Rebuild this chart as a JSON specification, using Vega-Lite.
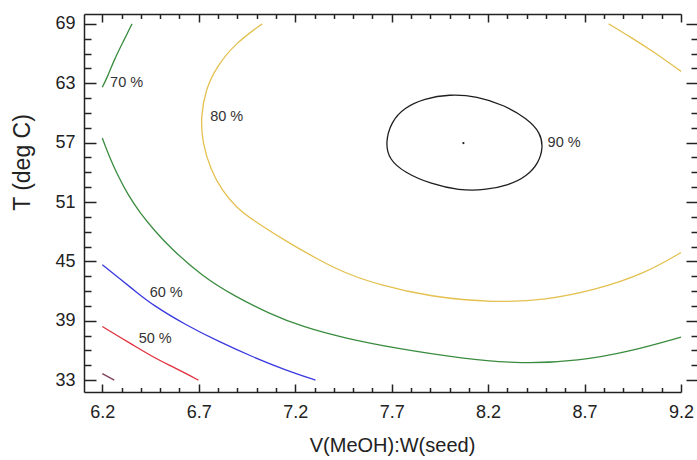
{
  "$schema": "https://vega.github.io/schema/vega-lite/v6.json",
  "width": 597,
  "height": 378,
  "autosize": "none",
  "padding": {"left": 84, "top": 14, "right": 16, "bottom": 68},
  "background": "white",
  "config": {
    "font": "Liberation Sans",
    "view": {"stroke": null},
    "axis": {
      "grid": false,
      "domainColor": "#222",
      "tickColor": "#222",
      "labelColor": "#222",
      "titleColor": "#222",
      "domainWidth": 1.5,
      "tickWidth": 1.5,
      "labelFontSize": 18,
      "labelFont": "Liberation Sans",
      "titleFont": "Liberation Sans",
      "titleFontWeight": "normal"
    }
  },
  "data": {
    "values": [
      {"lv": "50", "seg": "a", "o": 1, "x": 6.2, "y": 38.42},
      {"lv": "50", "seg": "a", "o": 2, "x": 6.288, "y": 37.38},
      {"lv": "50", "seg": "a", "o": 3, "x": 6.374, "y": 36.37},
      {"lv": "50", "seg": "a", "o": 4, "x": 6.461, "y": 35.36},
      {"lv": "50", "seg": "a", "o": 5, "x": 6.546, "y": 34.52},
      {"lv": "50", "seg": "a", "o": 6, "x": 6.633, "y": 33.68},
      {"lv": "50", "seg": "a", "o": 7, "x": 6.698, "y": 33.0},
      {"lv": "60", "seg": "a", "o": 1, "x": 6.2, "y": 44.66},
      {"lv": "60", "seg": "a", "o": 2, "x": 6.288, "y": 43.29},
      {"lv": "60", "seg": "a", "o": 3, "x": 6.374, "y": 41.94},
      {"lv": "60", "seg": "a", "o": 4, "x": 6.461, "y": 40.59},
      {"lv": "60", "seg": "a", "o": 5, "x": 6.633, "y": 38.57},
      {"lv": "60", "seg": "a", "o": 6, "x": 6.805, "y": 36.88},
      {"lv": "60", "seg": "a", "o": 7, "x": 6.978, "y": 35.36},
      {"lv": "60", "seg": "a", "o": 8, "x": 7.15, "y": 34.01},
      {"lv": "60", "seg": "a", "o": 9, "x": 7.305, "y": 33.0},
      {"lv": "70", "seg": "a", "o": 1, "x": 6.2, "y": 62.6},
      {"lv": "70", "seg": "a", "o": 2, "x": 6.228, "y": 63.7},
      {"lv": "70", "seg": "a", "o": 3, "x": 6.262, "y": 65.39},
      {"lv": "70", "seg": "a", "o": 4, "x": 6.305, "y": 67.08},
      {"lv": "70", "seg": "a", "o": 5, "x": 6.354, "y": 69.0},
      {"lv": "70", "seg": "b", "o": 1, "x": 6.2, "y": 57.46},
      {"lv": "70", "seg": "b", "o": 2, "x": 6.236, "y": 55.6},
      {"lv": "70", "seg": "b", "o": 3, "x": 6.281, "y": 53.65},
      {"lv": "70", "seg": "b", "o": 4, "x": 6.333, "y": 51.72},
      {"lv": "70", "seg": "b", "o": 5, "x": 6.395, "y": 49.9},
      {"lv": "70", "seg": "b", "o": 6, "x": 6.472, "y": 48.08},
      {"lv": "70", "seg": "b", "o": 7, "x": 6.546, "y": 46.49},
      {"lv": "70", "seg": "b", "o": 8, "x": 6.719, "y": 43.46},
      {"lv": "70", "seg": "b", "o": 9, "x": 6.891, "y": 41.43},
      {"lv": "70", "seg": "b", "o": 10, "x": 7.063, "y": 39.75},
      {"lv": "70", "seg": "b", "o": 11, "x": 7.236, "y": 38.39},
      {"lv": "70", "seg": "b", "o": 12, "x": 7.46, "y": 37.22},
      {"lv": "70", "seg": "b", "o": 13, "x": 7.722, "y": 36.21},
      {"lv": "70", "seg": "b", "o": 14, "x": 8.067, "y": 35.18},
      {"lv": "70", "seg": "b", "o": 15, "x": 8.377, "y": 34.62},
      {"lv": "70", "seg": "b", "o": 16, "x": 8.67, "y": 34.95},
      {"lv": "70", "seg": "b", "o": 17, "x": 8.929, "y": 35.86},
      {"lv": "70", "seg": "b", "o": 18, "x": 9.2, "y": 37.35},
      {"lv": "80", "seg": "a", "o": 1, "x": 7.029, "y": 69.0},
      {"lv": "80", "seg": "a", "o": 2, "x": 6.891, "y": 67.08},
      {"lv": "80", "seg": "a", "o": 3, "x": 6.788, "y": 64.55},
      {"lv": "80", "seg": "a", "o": 4, "x": 6.736, "y": 62.35},
      {"lv": "80", "seg": "a", "o": 5, "x": 6.71, "y": 59.65},
      {"lv": "80", "seg": "a", "o": 6, "x": 6.719, "y": 56.96},
      {"lv": "80", "seg": "a", "o": 7, "x": 6.762, "y": 54.26},
      {"lv": "80", "seg": "a", "o": 8, "x": 6.819, "y": 52.23},
      {"lv": "80", "seg": "a", "o": 9, "x": 6.891, "y": 50.51},
      {"lv": "80", "seg": "a", "o": 10, "x": 6.978, "y": 49.19},
      {"lv": "80", "seg": "a", "o": 11, "x": 7.15, "y": 47.07},
      {"lv": "80", "seg": "a", "o": 12, "x": 7.322, "y": 45.15},
      {"lv": "80", "seg": "a", "o": 13, "x": 7.46, "y": 43.8},
      {"lv": "80", "seg": "a", "o": 14, "x": 7.636, "y": 42.62},
      {"lv": "80", "seg": "a", "o": 15, "x": 7.894, "y": 41.43},
      {"lv": "80", "seg": "a", "o": 16, "x": 8.239, "y": 40.82},
      {"lv": "80", "seg": "a", "o": 17, "x": 8.498, "y": 41.1},
      {"lv": "80", "seg": "a", "o": 18, "x": 8.756, "y": 42.11},
      {"lv": "80", "seg": "a", "o": 19, "x": 9.015, "y": 43.8},
      {"lv": "80", "seg": "a", "o": 20, "x": 9.2, "y": 45.9},
      {"lv": "80", "seg": "b", "o": 1, "x": 8.825, "y": 69.0},
      {"lv": "80", "seg": "b", "o": 2, "x": 8.946, "y": 67.58},
      {"lv": "80", "seg": "b", "o": 3, "x": 9.067, "y": 66.07},
      {"lv": "80", "seg": "b", "o": 4, "x": 9.2, "y": 64.2},
      {"lv": "90", "seg": "a", "o": 1, "x": 7.667, "y": 56.99},
      {"lv": "90", "seg": "a", "o": 2, "x": 7.698, "y": 59.11},
      {"lv": "90", "seg": "a", "o": 3, "x": 7.765, "y": 60.53},
      {"lv": "90", "seg": "a", "o": 4, "x": 7.869, "y": 61.44},
      {"lv": "90", "seg": "a", "o": 5, "x": 7.998, "y": 61.9},
      {"lv": "90", "seg": "a", "o": 6, "x": 8.143, "y": 61.7},
      {"lv": "90", "seg": "a", "o": 7, "x": 8.282, "y": 60.8},
      {"lv": "90", "seg": "a", "o": 8, "x": 8.401, "y": 59.45},
      {"lv": "90", "seg": "a", "o": 9, "x": 8.472, "y": 58.0},
      {"lv": "90", "seg": "a", "o": 10, "x": 8.485, "y": 56.48},
      {"lv": "90", "seg": "a", "o": 11, "x": 8.462, "y": 54.96},
      {"lv": "90", "seg": "a", "o": 12, "x": 8.401, "y": 53.6},
      {"lv": "90", "seg": "a", "o": 13, "x": 8.308, "y": 52.7},
      {"lv": "90", "seg": "a", "o": 14, "x": 8.179, "y": 52.18},
      {"lv": "90", "seg": "a", "o": 15, "x": 8.05, "y": 52.18},
      {"lv": "90", "seg": "a", "o": 16, "x": 7.905, "y": 52.8},
      {"lv": "90", "seg": "a", "o": 17, "x": 7.765, "y": 54.0},
      {"lv": "90", "seg": "a", "o": 18, "x": 7.688, "y": 55.27},
      {"lv": "40", "seg": "a", "o": 1, "x": 6.2, "y": 33.65},
      {"lv": "40", "seg": "a", "o": 2, "x": 6.262, "y": 33.0}
    ]
  },
  "resolve": {"axis": {"x": "independent", "y": "independent"}},
  "layer": [
    {
      "transform": [{"filter": "datum.lv === '50'"}],
      "mark": {"type": "line", "color": "#e0303c", "strokeWidth": 1.3, "interpolate": "basis"},
      "encoding": {
        "x": {"field": "x", "type": "quantitative", "scale": {"domain": [6.105, 9.2], "nice": false, "zero": false},
          "axis": {"orient": "bottom", "values": [6.2, 6.7, 7.2, 7.7, 8.2, 8.7, 9.2], "format": ".1f", "ticks": false, "labelPadding": 11, "labelFlush": false, "labelOverlap": false,
            "title": "V(MeOH):W(seed)", "titleFontSize": 20, "titleX": 308, "titleY": 59, "titleAlign": "center", "titleBaseline": "alphabetic"}},
        "y": {"field": "y", "type": "quantitative", "scale": {"domain": [31.8, 70], "nice": false, "zero": false},
          "axis": {"orient": "left", "values": [33, 39, 45, 51, 57, 63, 69], "ticks": false, "labelPadding": 9, "labelFlush": false, "labelOverlap": false,
            "title": "T  (deg C)", "titleFontSize": 23, "titleAngle": -90, "titleX": -55, "titleY": 148, "titleAlign": "center", "titleBaseline": "alphabetic"}},
        "order": {"field": "o", "type": "quantitative"},
        "detail": {"field": "seg", "type": "nominal"}
      }
    },
    {
      "transform": [{"filter": "datum.lv === '60'"}],
      "mark": {"type": "line", "color": "#3a3adf", "strokeWidth": 1.3, "interpolate": "basis"},
      "encoding": {
        "x": {"field": "x", "type": "quantitative", "scale": {"domain": [6.105, 9.2], "nice": false, "zero": false},
          "axis": {"orient": "bottom", "values": [6.2, 6.7, 7.2, 7.7, 8.2, 8.7, 9.2], "labels": false, "domain": false, "title": null, "offset": -8, "tickSize": 8}},
        "y": {"field": "y", "type": "quantitative", "scale": {"domain": [31.8, 70], "nice": false, "zero": false},
          "axis": {"orient": "left", "values": [33, 39, 45, 51, 57, 63, 69], "labels": false, "domain": false, "title": null, "offset": -12, "tickSize": 12}},
        "order": {"field": "o", "type": "quantitative"},
        "detail": {"field": "seg", "type": "nominal"}
      }
    },
    {
      "transform": [{"filter": "datum.lv === '70'"}],
      "mark": {"type": "line", "color": "#3a8c3f", "strokeWidth": 1.3, "interpolate": "basis"},
      "encoding": {
        "x": {"field": "x", "type": "quantitative", "scale": {"domain": [6.105, 9.2], "nice": false, "zero": false},
          "axis": {"orient": "bottom", "values": [6.3, 6.4, 6.5, 6.6, 6.8, 6.9, 7.0, 7.1, 7.3, 7.4, 7.5, 7.6, 7.8, 7.9, 8.0, 8.1, 8.3, 8.4, 8.5, 8.6, 8.8, 8.9, 9.0, 9.1], "labels": false, "domain": false, "title": null, "offset": -4.5, "tickSize": 4.5}},
        "y": {"field": "y", "type": "quantitative", "scale": {"domain": [31.8, 70], "nice": false, "zero": false},
          "axis": {"orient": "left", "values": [34.5, 36, 37.5, 40.5, 42, 43.5, 46.5, 48, 49.5, 52.5, 54, 55.5, 58.5, 60, 61.5, 64.5, 66, 67.5], "labels": false, "domain": false, "title": null, "offset": -7, "tickSize": 7}},
        "order": {"field": "o", "type": "quantitative"},
        "detail": {"field": "seg", "type": "nominal"}
      }
    },
    {
      "transform": [{"filter": "datum.lv === '80'"}],
      "mark": {"type": "line", "color": "#e3c04f", "strokeWidth": 1.3, "interpolate": "basis"},
      "encoding": {
        "x": {"field": "x", "type": "quantitative", "scale": {"domain": [6.105, 9.2], "nice": false, "zero": false},
          "axis": {"orient": "top", "ticks": false, "labels": false, "title": null}},
        "y": {"field": "y", "type": "quantitative", "scale": {"domain": [31.8, 70], "nice": false, "zero": false},
          "axis": {"orient": "right", "values": [33, 39, 45, 51, 57, 63, 69], "labels": false, "domain": false, "title": null, "offset": 5, "tickSize": 11}},
        "order": {"field": "o", "type": "quantitative"},
        "detail": {"field": "seg", "type": "nominal"}
      }
    },
    {
      "transform": [{"filter": "datum.lv === '90'"}],
      "mark": {"type": "line", "color": "#1e1e1e", "strokeWidth": 1.3, "interpolate": "basis-closed"},
      "encoding": {
        "x": {"field": "x", "type": "quantitative", "scale": {"domain": [6.105, 9.2], "nice": false, "zero": false},
          "axis": {"orient": "top", "values": [6.2, 6.7, 7.2, 7.7, 8.2, 8.7, 9.2], "labels": false, "domain": false, "title": null, "offset": -8, "tickSize": 8}},
        "y": {"field": "y", "type": "quantitative", "scale": {"domain": [31.8, 70], "nice": false, "zero": false},
          "axis": {"orient": "right", "values": [34.5, 36, 37.5, 40.5, 42, 43.5, 46.5, 48, 49.5, 52.5, 54, 55.5, 58.5, 60, 61.5, 64.5, 66, 67.5], "labels": false, "domain": false, "title": null, "offset": 10, "tickSize": 6}},
        "order": {"field": "o", "type": "quantitative"},
        "detail": {"field": "seg", "type": "nominal"}
      }
    },
    {
      "transform": [{"filter": "datum.lv === '40'"}],
      "mark": {"type": "line", "color": "#7d3f5c", "strokeWidth": 1.3},
      "encoding": {
        "x": {"field": "x", "type": "quantitative", "scale": {"domain": [6.105, 9.2], "nice": false, "zero": false},
          "axis": {"orient": "top", "values": [6.3, 6.4, 6.5, 6.6, 6.8, 6.9, 7.0, 7.1, 7.3, 7.4, 7.5, 7.6, 7.8, 7.9, 8.0, 8.1, 8.3, 8.4, 8.5, 8.6, 8.8, 8.9, 9.0, 9.1], "labels": false, "domain": false, "title": null, "offset": -4.5, "tickSize": 4.5}},
        "y": {"field": "y", "type": "quantitative", "scale": {"domain": [31.8, 70], "nice": false, "zero": false}, "axis": null},
        "order": {"field": "o", "type": "quantitative"},
        "detail": {"field": "seg", "type": "nominal"}
      }
    },
    {
      "data": {
        "values": [
          {"label": "70 %", "x": 6.326, "y": 63.0},
          {"label": "80 %", "x": 6.845, "y": 59.6},
          {"label": "90 %", "x": 8.594, "y": 57.0},
          {"label": "60 %", "x": 6.531, "y": 41.8},
          {"label": "50 %", "x": 6.474, "y": 37.15}
        ]
      },
      "mark": {"type": "text", "fontSize": 14.5, "color": "#333", "font": "Liberation Sans", "align": "center", "baseline": "middle"},
      "encoding": {
        "x": {"field": "x", "type": "quantitative", "scale": {"domain": [6.105, 9.2], "nice": false, "zero": false}, "axis": null},
        "y": {"field": "y", "type": "quantitative", "scale": {"domain": [31.8, 70], "nice": false, "zero": false}, "axis": null},
        "text": {"field": "label", "type": "nominal"}
      }
    },
    {
      "data": {"values": [{"x": 8.072, "y": 56.96}]},
      "mark": {"type": "point", "filled": true, "size": 5, "color": "#1e1e1e", "opacity": 1},
      "encoding": {
        "x": {"field": "x", "type": "quantitative", "scale": {"domain": [6.105, 9.2], "nice": false, "zero": false}, "axis": null},
        "y": {"field": "y", "type": "quantitative", "scale": {"domain": [31.8, 70], "nice": false, "zero": false}, "axis": null}
      }
    }
  ]
}
